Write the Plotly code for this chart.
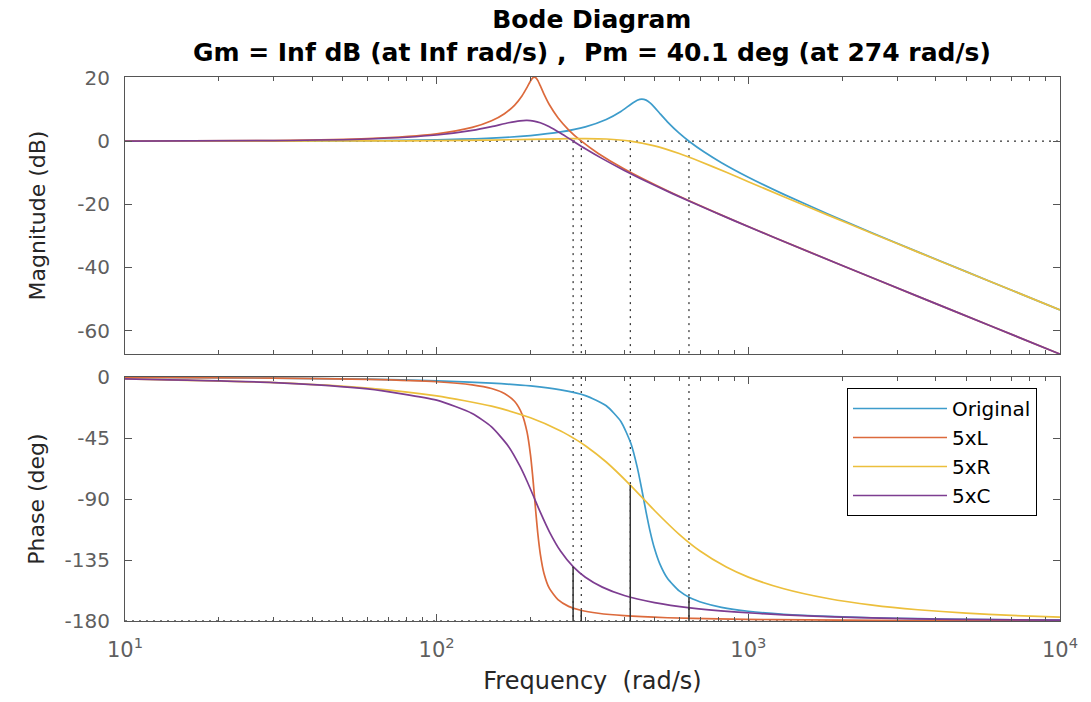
import plotly.graph_objects as go

# ---------------- data ----------------
freq_orig = [10, 30, 60, 100, 150, 200, 250, 300, 350, 390, 420, 440, 455, 470, 485, 500,
             520, 550, 600, 650, 720, 820, 1000, 1300, 1800, 2500, 3500, 5000, 7000, 10000]
mag_orig = [0.00, 0.04, 0.15, 0.41, 0.94, 1.75, 2.90, 4.52, 6.84, 9.39, 11.66, 12.93, 13.32,
            12.98, 12.00, 10.66, 8.76, 6.12, 2.53, -0.27, -3.38, -6.83, -11.43, -16.86,
            -23.08, -29.07, -35.06, -41.33, -47.21, -53.42]
phase_orig = [-0.3, -0.8, -1.6, -2.8, -4.5, -6.6, -9.5, -13.7, -21.2, -32.8, -49.1, -66.5,
              -82.8, -99.8, -114.8, -126.6, -137.9, -148.5, -157.8, -162.8, -166.7, -169.9,
              -172.8, -175.0, -176.6, -177.6, -178.3, -178.8, -179.2, -179.4]

freq_L = [10, 30, 60, 100, 130, 150, 165, 178, 188, 195, 200, 203, 205.5, 208, 211, 215,
          221, 230, 245, 265, 290, 330, 400, 550, 800, 1200, 2000, 3500, 6000, 10000]
mag_L = [0.02, 0.19, 0.76, 2.31, 4.35, 6.44, 8.67, 11.41, 14.37, 17.04, 19.05, 19.95, 20.27,
         20.07, 19.22, 17.54, 14.87, 11.50, 7.41, 3.59, 0.13, -3.90, -8.84, -15.73, -22.95,
         -30.33, -39.37, -49.15, -58.54, -67.42]
phase_L = [-0.3, -0.8, -1.8, -3.5, -5.8, -8.5, -12.2, -18.1, -27.5, -40.7, -57.4, -71.6,
           -85.4, -99.6, -114.9, -130.4, -144.9, -156.0, -164.3, -169.2, -172.1, -174.3,
           -176.1, -177.6, -178.5, -179.0, -179.4, -179.7, -179.8, -179.9]

freq_R = [10, 30, 60, 100, 150, 200, 250, 280, 300, 350, 418, 500, 600, 700, 850, 1000,
          1300, 1800, 2500, 3500, 5000, 7000, 10000]
mag_R = [0.00, 0.02, 0.06, 0.16, 0.34, 0.55, 0.73, 0.80, 0.81, 0.67, 0.01, -1.50, -3.93,
         -6.44, -9.88, -12.84, -17.60, -23.43, -29.24, -35.14, -41.37, -47.23, -53.43]
phase_R = [-1.3, -4.1, -8.2, -13.9, -21.5, -30.1, -39.8, -46.2, -50.7, -62.7, -79.7, -98.5,
           -116.1, -128.4, -140.2, -147.6, -156.2, -163.4, -168.3, -171.7, -174.2, -175.9,
           -177.1]

freq_C = [10, 30, 60, 100, 130, 150, 170, 185, 195, 205, 215, 230, 250, 274, 300, 340, 400,
          500, 650, 900, 1300, 2000, 3500, 6000, 10000]
mag_C = [0.02, 0.16, 0.67, 1.93, 3.40, 4.60, 5.81, 6.43, 6.55, 6.34, 5.80, 4.54, 2.48, 0.01,
         -2.41, -5.54, -9.29, -14.00, -19.14, -25.18, -31.78, -39.38, -49.16, -58.54, -67.42]
phase_C = [-1.4, -4.1, -8.8, -17.1, -26.9, -36.8, -51.2, -65.8, -76.9, -88.5, -99.7, -114.2,
           -128.6, -139.9, -147.7, -155.0, -161.2, -166.4, -170.3, -173.3, -175.5, -177.1,
           -178.4, -179.0, -179.4]

# gain-crossover frequencies (rad/s) and phase at crossover (deg): Original, 5xL, 5xR, 5xC
margin_freq = [645, 291, 418, 274]
margin_phase = [-162.4, -172.1, -79.7, -139.9]

series_names = ["Original", "5xL", "5xR", "5xC"]
x_tick_vals = [10, 100, 1000, 10000]
x_tick_text = ["10<sup>1</sup>", "10<sup>2</sup>", "10<sup>3</sup>", "10<sup>4</sup>"]
mag_ticks = [-60, -40, -20, 0, 20]
mag_tick_text = ["-60", "-40", "-20", "0", "20"]
phase_ticks = [-180, -135, -90, -45, 0]
phase_tick_text = ["-180", "-135", "-90", "-45", "0"]

# ---------------- styling ----------------
colors = ["#3d9ccb", "#dc6a3c", "#ecbf3c", "#7d3d91"]
FONT = "DejaVu Sans, Liberation Sans, Arial, sans-serif"
AX_COL = "#555555"
TICK_COL = "#5f5f5f"
LBL_COL = "#262626"
MAG_RANGE = [-67.4, 20.3]
PH_RANGE = [-180, 0]

minor_vals = [m * 10 ** k for k in (1, 2, 3) for m in range(2, 10)]

fig = go.Figure()

# margin marker lines (dotted)
dot = dict(color="black", width=1, dash="2px,5px")
mx, my = [10, 10000, None], [0, 0, None]
for f in margin_freq:
    mx += [f, f, None]
    my += [0, MAG_RANGE[0], None]
fig.add_trace(go.Scatter(x=mx, y=my, mode="lines", line=dot, showlegend=False,
                         hoverinfo="skip", xaxis="x", yaxis="y"))
px, py = [10, 10000, None], [-180, -180, None]
for f in margin_freq:
    px += [f, f, None]
    py += [PH_RANGE[1], PH_RANGE[0], None]
fig.add_trace(go.Scatter(x=px, y=py, mode="lines", line=dot, showlegend=False,
                         hoverinfo="skip", xaxis="x2", yaxis="y2"))

data = [(freq_orig, mag_orig, phase_orig), (freq_L, mag_L, phase_L),
        (freq_R, mag_R, phase_R), (freq_C, mag_C, phase_C)]
for name, (f, m, p), col in zip(series_names, data, colors):
    ln = dict(color=col, width=1.7, shape="spline", smoothing=0.6)
    fig.add_trace(go.Scatter(x=f, y=m, mode="lines", name=name, line=ln,
                             legendgroup=name, xaxis="x", yaxis="y"))
    fig.add_trace(go.Scatter(x=f, y=p, mode="lines", name=name, line=ln,
                             legendgroup=name, showlegend=False, xaxis="x2", yaxis="y2"))

# solid phase-margin bars
sx, sy = [], []
for f, ph in zip(margin_freq, margin_phase):
    sx += [f, f, None]
    sy += [-180, ph, None]
fig.add_trace(go.Scatter(x=sx, y=sy, mode="lines", line=dict(color="#333333", width=1.5),
                         showlegend=False, hoverinfo="skip", xaxis="x2", yaxis="y2"))

common_x = dict(type="log", range=[1, 4], showgrid=False, zeroline=False, showline=True,
                linecolor=AX_COL, linewidth=1, mirror="ticks", ticks="inside", ticklen=7,
                tickcolor=AX_COL, tickvals=x_tick_vals,
                minor=dict(ticks="inside", ticklen=4, tickcolor=AX_COL, tickmode="array",
                           tickvals=minor_vals, showgrid=False))
common_y = dict(showgrid=False, zeroline=False, showline=True, linecolor=AX_COL, linewidth=1,
                mirror="ticks", ticks="inside", ticklen=7, tickcolor=AX_COL,
                tickfont=dict(family=FONT, size=20, color=TICK_COL), ticklabelstandoff=10)

fig.update_layout(
    width=1091, height=702,
    margin=dict(l=125, r=31, t=77, b=81),
    paper_bgcolor="white", plot_bgcolor="white",
    title=dict(text="<b>Bode Diagram</b><br><b>Gm = Inf dB (at Inf rad/s) ,  Pm = 40.1 deg (at 274 rad/s)</b>",
               x=0.5425, xanchor="center", y=0.960, yanchor="middle", yref="container",
               font=dict(family=FONT, size=25, color="black")),
    xaxis=dict(common_x, anchor="y", domain=[0, 1], showticklabels=False),
    xaxis2=dict(common_x, anchor="y2", domain=[0, 1], ticktext=x_tick_text,
                tickfont=dict(family=FONT, size=21, color=TICK_COL), ticklabelstandoff=10,
                title=dict(text="Frequency \u00a0(rad/s)", standoff=10,
                           font=dict(family=FONT, size=24, color=LBL_COL))),
    yaxis=dict(common_y, domain=[0.4908, 1], range=MAG_RANGE, tickvals=mag_ticks,
               ticktext=mag_tick_text,
               title=dict(text="Magnitude (dB)", standoff=25,
                          font=dict(family=FONT, size=22, color=LBL_COL))),
    yaxis2=dict(common_y, domain=[0, 0.4485], range=PH_RANGE, tickvals=phase_ticks,
                ticktext=phase_tick_text,
                title=dict(text="Phase (deg)", standoff=13,
                           font=dict(family=FONT, size=22, color=LBL_COL))),
    legend=dict(x=0.9754, xanchor="right", y=0.4283, yanchor="top",
                bgcolor="white", bordercolor="black", borderwidth=1,
                font=dict(family=FONT, size=20, color="black"), itemwidth=94,
                tracegroupgap=0),
    showlegend=True,
)

fig.write_html("out.html")
